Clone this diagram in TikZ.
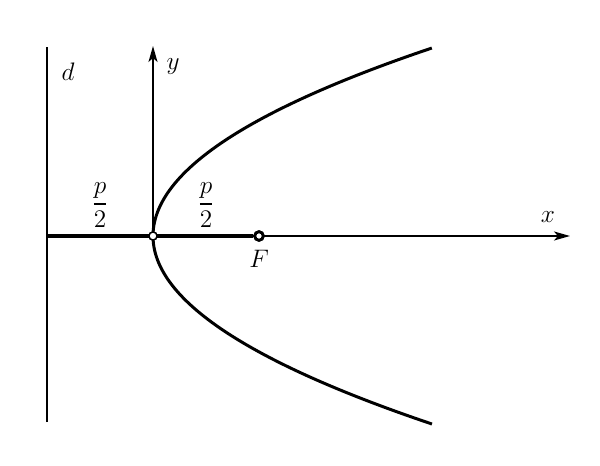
\documentclass[tikz,border=0pt]{standalone}
\usepackage{amsmath}
\usepackage{tikz}
\usetikzlibrary{positioning}
\usetikzlibrary{calc}
\usetikzlibrary{arrows.meta}
\tikzstyle{axis}=[line width=1pt]
\tikzstyle{arrow}=[-{Stealth[length=3.2mm,width=1.8mm,inset=0.8mm]}, line width=1pt]
\tikzstyle{curve}=[line width=1.7pt]
\tikzstyle{segment}=[line width=2.2pt]
\tikzstyle{vertex}=[circle, draw, fill=white, inner sep=0pt, minimum size=0.16cm, line width=0.8pt]
\tikzstyle{focus}=[circle, draw, fill=white, inner sep=0pt, minimum size=0.17cm, line width=1.6pt]

\begin{document}
\begin{tikzpicture}
      \useasboundingbox (-3.06,-4.6) rectangle (8.94,4.72);

      \coordinate (xstart) at (-2.12,0);
      \coordinate (xend) at (8.34,0);
      \coordinate (ytop) at (0,3.8);
      \coordinate (dtop) at (-2.12,3.78);
      \coordinate (dbottom) at (-2.12,-3.72);
      \node[vertex] (O) at (0,0) {};
      \node[focus] (F) at (2.12,0) {};

      \node (dlabel) at (-1.7,3.28) {\Large $d$};
      \node (ylabel) at (0.4,3.38) {\Large $y$};
      \node (xlabel) at (7.9,0.38) {\Large $x$};
      \node (Flabel) at (2.12,-0.46) {\Large $F$};
      \node (halfleft) at (-1.06,0.62) {\Large $\dfrac{p}{2}$};
      \node (halfright) at (1.06,0.62) {\Large $\dfrac{p}{2}$};

      % directrix and axes
      \draw[axis] (dbottom) -- (dtop);
      \draw[arrow] (xstart) -- (xend);
      \draw[arrow] (O) -- (ytop);
      \draw[segment] (xstart) -- (F);

      % parabola
      \draw[curve] plot[domain=-3.76:3.76, samples=120] ({\x*\x/2.534}, \x);

      \node[vertex] at (O) {};
      \node[focus] at (F) {};
\end{tikzpicture}
\end{document}
